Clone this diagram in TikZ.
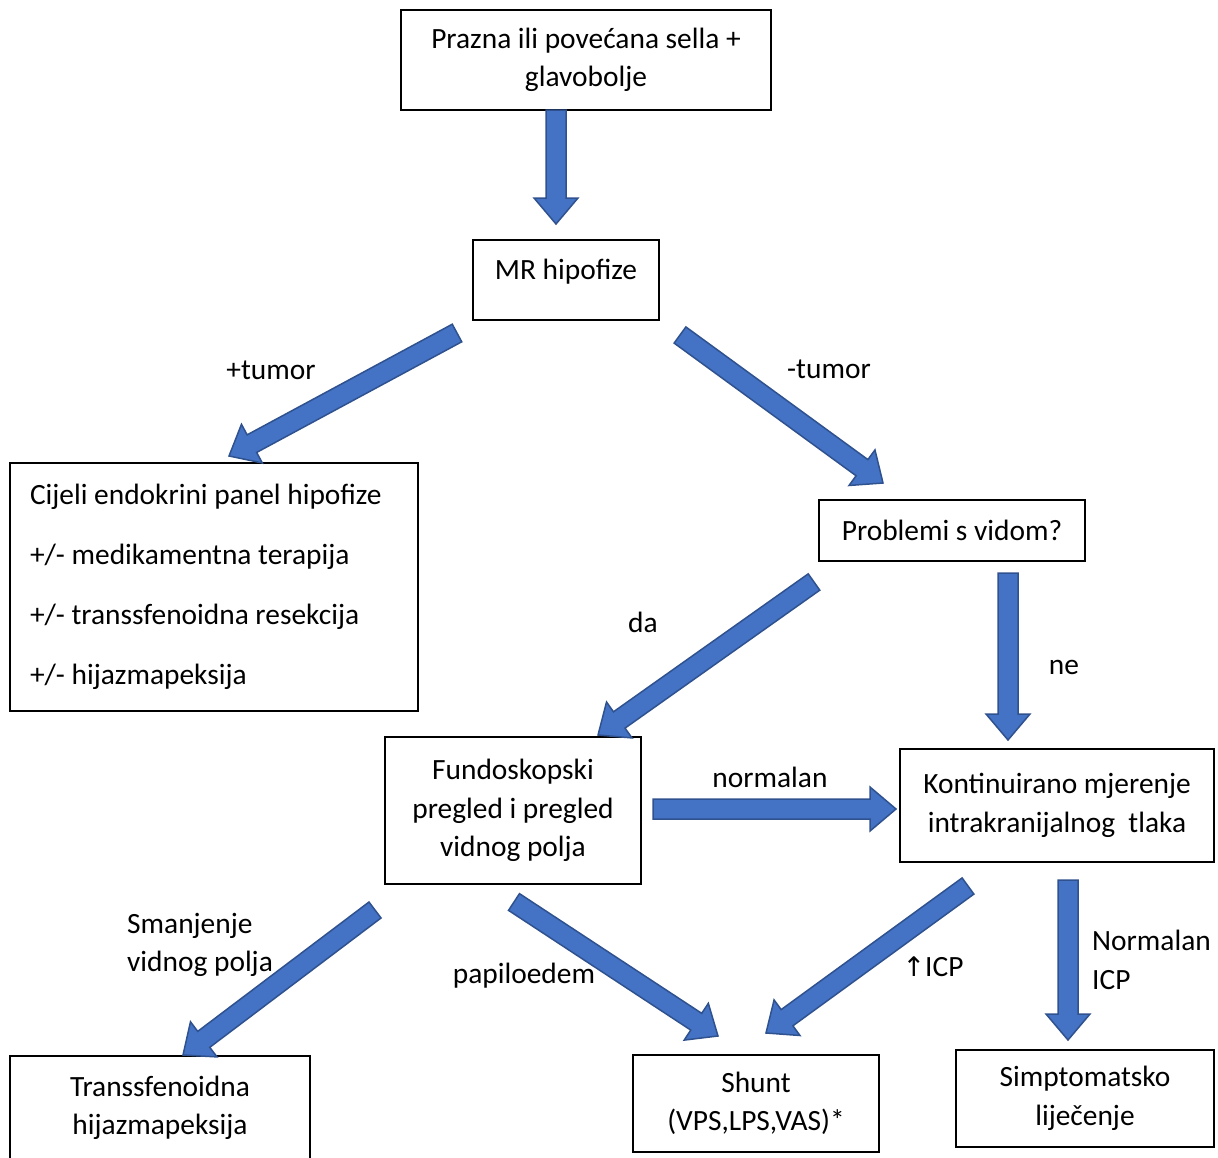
\documentclass[tikz,border=0pt]{standalone}
\usepackage{fontspec}
\setmainfont{Carlito}
\newfontfamily\symfont{DejaVu Sans}
\usetikzlibrary{calc}
\definecolor{arrowblue}{HTML}{4472C4}
\definecolor{arrowedge}{HTML}{2F528F}
\tikzset{
  box/.style = {draw, line width = 1.5pt, align = flush center, inner sep = 0pt},
  lbl/.style = {inner sep = 0pt, align = flush left},
  blockarrow/.style = {draw = arrowedge, fill = arrowblue, line width = 1.5pt, line join = miter}
}
% block arrow from #1 to #2
\newcommand{\blockarrow}[2]{%
  \path[blockarrow] let \p1 = (#1), \p2 = (#2),
    \n1 = {atan2(\y2-\y1,\x2-\x1)}, \n2 = {veclen(\x2-\x1,\y2-\y1)} in
    [shift = {(\p1)}, rotate = \n1]
    (0,-10) -- ({\n2-26},-10) -- ({\n2-26},-22) -- (\n2,0) -- ({\n2-26},22) -- ({\n2-26},10) -- (0,10) -- cycle;}
\begin{document}
\begin{tikzpicture}[
    x = 1pt, y = -1pt,
    font = \fontsize{29.4}{38.5}\selectfont
]
\useasboundingbox (0,0) rectangle (1218,1157);
\node[box, minimum width = 370pt, minimum height = 100pt] (top) at (586,60) {Prazna ili povećana sella +\\glavobolje};
\node[box, minimum width = 186pt, minimum height = 80pt, text depth = 22pt] (mr) at (566,280) {MR hipofize};
\node[box, text width = 368pt, inner xsep = 20pt, minimum height = 248pt, align = flush left] (panel) at (214,587)
  {Cijeli endokrini panel hipofize\\[21.5pt]+/- medikamentna terapija\\[21.5pt]+/- transsfenoidna resekcija\\[21.5pt]+/- hijazmapeksija};
\node[box, minimum width = 266pt, minimum height = 61pt] (vid) at (952,530.5) {Problemi s vidom?};
\node[box, minimum width = 256pt, minimum height = 147pt] (fundo) at (513,810.5) {Fundoskopski\\pregled i pregled\\vidnog polja};
\node[box, minimum width = 314pt, minimum height = 113pt] (icp) at (1057,805.5) {Kontinuirano mjerenje\\intrakranijalnog\ \ tlaka};
\node[box, minimum width = 300pt, minimum height = 104pt] (trans) at (160,1108) {Transsfenoidna\\hijazmapeksija};
\node[box, minimum width = 246pt, minimum height = 97pt] (shunt) at (756,1103.5) {Shunt\\(VPS,LPS,VAS)*};
\node[box, minimum width = 258pt, minimum height = 97pt] (simpt) at (1085,1098.5) {Simptomatsko\\liječenje};
% labels
\node[lbl] (plus) at (271,370) {+tumor};
\node[lbl] (minus) at (829,369) {-tumor};
\node[lbl] (da) at (643,622) {da};
\node[lbl] (ne) at (1064,667) {ne};
\node[lbl] (norm) at (770,777) {normalan};
\node[lbl, anchor = west] (field) at (127,945) {Smanjenje\\vidnog polja};
\node[lbl] (papil) at (524,976) {papiloedem};
\node[lbl] (high) at (933,967) {{\symfont\fontsize{27}{30}\selectfont ↑}ICP};
\node[lbl, anchor = west] (normicp) at (1092,960) {Normalan\\ICP};
% arrow ends
\coordinate (a1s) at (556,110);  \coordinate (a1e) at (556,224);
\coordinate (a2s) at (457,333);  \coordinate (a2e) at (229,456);
\coordinate (a3s) at (680,335);  \coordinate (a3e) at (883,483);
\coordinate (a4s) at (814,582);  \coordinate (a4e) at (598,735);
\coordinate (a5s) at (1008,573); \coordinate (a5e) at (1008,740);
\coordinate (a6s) at (653,809);  \coordinate (a6e) at (896,809);
\coordinate (a7s) at (375,910);  \coordinate (a7e) at (183,1055);
\coordinate (a8s) at (514,902);  \coordinate (a8e) at (718,1036);
\coordinate (a9s) at (968,886);  \coordinate (a9e) at (766,1033);
\coordinate (a10s) at (1068,880); \coordinate (a10e) at (1068,1040);
% arrows
\blockarrow{a1s}{a1e}
\blockarrow{a2s}{a2e}
\blockarrow{a3s}{a3e}
\blockarrow{a4s}{a4e}
\blockarrow{a5s}{a5e}
\blockarrow{a6s}{a6e}
\blockarrow{a7s}{a7e}
\blockarrow{a8s}{a8e}
\blockarrow{a9s}{a9e}
\blockarrow{a10s}{a10e}
\end{tikzpicture}
\end{document}
